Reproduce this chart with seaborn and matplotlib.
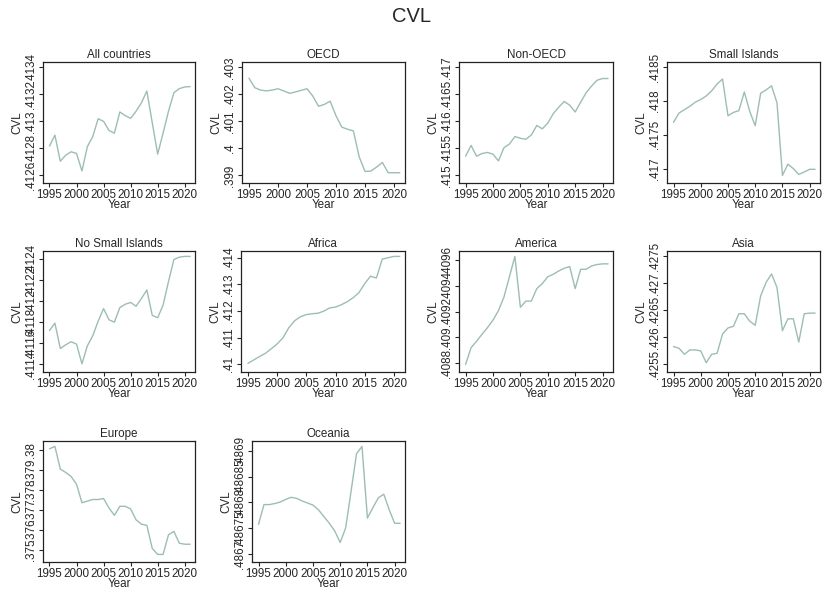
import numpy as np
import pandas as pd
import matplotlib
matplotlib.use("Agg")
import matplotlib.pyplot as plt
import seaborn as sns

sns.set_style("ticks")
plt.rcParams['font.family'] = ['Liberation Sans', 'DejaVu Sans']

# donnees, 1995-2021
years = list(range(1995, 2022))

all_countries = [.412818, .412898, .412705, .41275, .412775, .412763, .412633, .412813, .412888,
                 .41302, .413, .412933, .412913, .41307, .413043, .413023, .413075, .413138,
                 .413225, .41299, .412758, .412913, .413075, .413213, .413243, .413255, .413258]
oecd = [.4026, .40225, .40216, .40213, .40216, .40221, .40213, .40204, .40209, .40215, .40221,
        .40194, .40156, .40163, .40175, .40121, .40079, .40071, .40065, .39969, .39915, .39916,
        .39931, .39948, .3991, .3991, .3991]
non_oecd = [.415356, .415556, .415356, .415406, .415425, .415394, .415269, .415513, .415581,
            .415719, .415688, .415669, .41575, .415925, .415863, .415969, .416144, .416263,
            .416369, .4163, .416175, .416356, .416531, .416656, .416763, .416794, .416794]
small_islands = [.417687, .417823, .417874, .417924, .417985, .418025, .418076, .418152, .418253,
                 .418328, .417783, .417833, .417859, .418136, .417848, .417636, .418116, .418167,
                 .418227, .417975, .416899, .417066, .417, .416914, .41695, .41699, .41699]
no_small_islands = [.411721, .411791, .411551, .411586, .411615, .411592, .411406, .411576, .411672,
                    .41181, .411929, .411823, .4118, .411938, .41197, .411987, .411951, .412025,
                    .412105, .411865, .411842, .411961, .412185, .412394, .412416, .412423, .412423]
africa = [.41004, .41017, .4103, .41042, .41059, .41077, .411, .41138, .41164, .41179, .41187,
          .4119, .41192, .412, .41212, .41215, .41224, .41235, .4125, .41269, .41303, .41331,
          .41324, .41395, .414, .41405, .41405]
america = [.40879, .40892, .40897, .409024, .409076, .409134, .409208, .409313, .409471, .409629,
           .409234, .409282, .409282, .409379, .409418, .409471, .40949, .409516, .409537, .40955,
           .409379, .409529, .409529, .409555, .409566, .409571, .409571]
asia = [.425831, .4258, .425688, .425769, .425769, .42575, .425531, .425688, .425706, .426063,
        .426175, .426206, .426438, .426438, .4263, .426225, .426769, .427019, .427175, .426925,
        .426125, .426344, .426344, .425913, .426438, .42645, .42645]
europe = [.38005, .38017, .37904, .37887, .37867, .37828, .37736, .37744, .37752, .37752, .37757,
          .3771, .37673, .37718, .37718, .37705, .37651, .37629, .37623, .37508, .37478, .37478,
          .37576, .37593, .37534, .37529, .37529]
oceania = [.486758, .486796, .486796, .486798, .486801, .486806, .48681, .486808, .486803, .486799,
           .486795, .486786, .486773, .48676, .486745, .486723, .486751, .486822, .486894, .486908,
           .48677, .48679, .486809, .486816, .486786, .48676, .48676]

titles = ['All countries', 'OECD', 'Non-OECD', 'Small Islands', 'No Small Islands',
          'Africa', 'America', 'Asia', 'Europe', 'Oceania']
series = [all_countries, oecd, non_oecd, small_islands, no_small_islands,
          africa, america, asia, europe, oceania]

# graduations de l'axe y (format stata)
yticks = [
    ['.4126', '.4128', '.413', '.4132', '.4134'],
    ['.399', '.4', '.401', '.402', '.403'],
    ['.415', '.4155', '.416', '.4165', '.417'],
    ['.417', '.4175', '.418', '.4185'],
    ['.4114', '.4116', '.4118', '.412', '.4122', '.4124'],
    ['.41', '.411', '.412', '.413', '.414'],
    ['.4088', '.409', '.4092', '.4094', '.4096'],
    ['.4255', '.426', '.4265', '.427', '.4275'],
    ['.375', '.376', '.377', '.378', '.379', '.38'],
    ['.4867', '.48675', '.4868', '.48685', '.4869'],
]
xticks = [1995, 2000, 2005, 2010, 2015, 2020]

# positions des panneaux en pixels (gauche, haut, droite, bas)
W, H = 822, 592
boxes = [(43, 62, 195, 183), (242, 62, 405, 183), (459, 62, 613, 183), (667, 62, 820, 183),
         (43, 251, 195, 372), (241, 251, 405, 372), (459, 251, 613, 372), (667, 251, 820, 372),
         (43, 441, 195, 562), (252, 441, 405, 562)]

line_col = '#9dbdb4'

fig = plt.figure(figsize=(W / 100, H / 100), dpi=100)
fig.suptitle('CVL', fontsize=14.5, y=0.988)

for title, vals, labs, (l, t, r, b) in zip(titles, series, yticks, boxes):
    ax = fig.add_axes([l / W, 1 - b / H, (r - l) / W, (b - t) / H])
    df = pd.DataFrame({'Year': years, 'CVL': vals})
    sns.lineplot(data=df, x='Year', y='CVL', ax=ax, color=line_col, linewidth=1)
    tv = [float(s) for s in labs]
    lo = min(tv[0], min(vals))
    hi = max(tv[-1], max(vals))
    span = hi - lo
    ax.set_ylim(lo - 0.07 * span, hi + 0.05 * span)
    ax.set_xlim(1993.8, 2021.9)
    ax.set_yticks(tv)
    ax.set_yticklabels(labs, rotation=90, va='center')
    ax.set_xticks(xticks)
    ax.tick_params(axis='both', labelsize=8.4, length=3, width=0.8, pad=1.5)
    ax.set_title(title, fontsize=8.4, pad=3)
    ax.set_xlabel('Year', fontsize=8.4, labelpad=-1.5)
    ax.set_ylabel('CVL', fontsize=8.4, labelpad=1)
    for sp in ax.spines.values():
        sp.set_visible(True)
        sp.set_linewidth(0.9)
        sp.set_color('#222222')

fig.savefig('out.png', dpi=100)
